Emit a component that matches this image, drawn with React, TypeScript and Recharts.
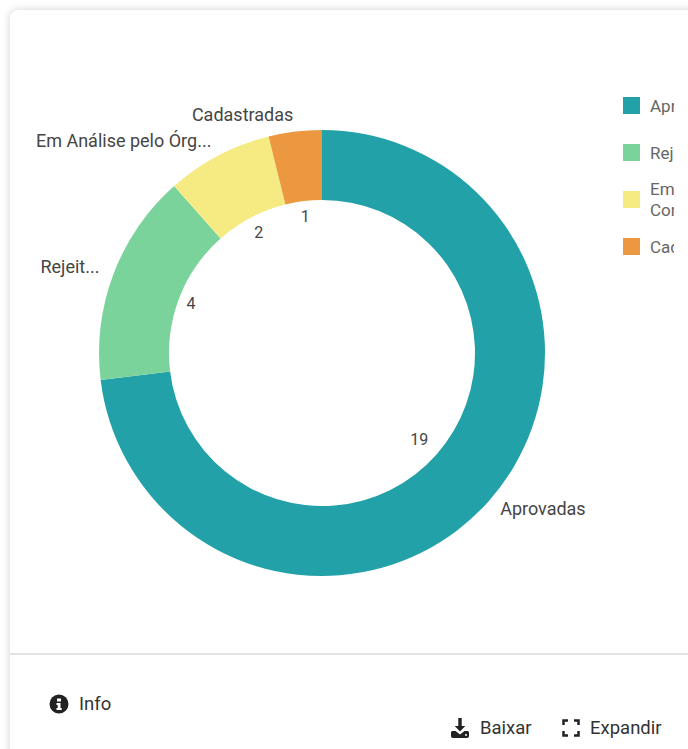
import { PieChart, Pie, Cell } from "recharts"

// ------------------------------------------------------------------
// Data
// ------------------------------------------------------------------

const categories = ["Aprovadas", "Rejeitadas", "Em Análise pelo Órgão", "Cadastradas"]
const legendLabels = ["Aprovadas", "Rejeitadas", "Em Análise pelo Órgão Concedente", "Cadastradas"]
const outerLabels = ["Aprovadas", "Rejeit...", "Em Análise pelo Órg...", "Cadastradas"]
const counts = [19, 4, 2, 1]
const colors = ["#23a1a8", "#7bd39c", "#f6ea83", "#ec9840"]

const chartData = categories.map((name, i) => ({ name, value: counts[i] }))

// label layout
const valueRadius = [130, 140, 136, 138]

const FONT = "Roboto, sans-serif"
const RADIAN = Math.PI / 180

// ------------------------------------------------------------------
// Labels
// ------------------------------------------------------------------

function SliceLabel({ cx, cy, midAngle, index, value }: any) {
    const cos = Math.cos(midAngle * RADIAN)
    const sin = Math.sin(midAngle * RADIAN)
    const outerR = 238
    const ir = valueRadius[index]

    return (
        <g style={{ fontFamily: FONT }}>
            <text
                x={cx + outerR * cos}
                y={cy - outerR * sin - 2}
                textAnchor={cos > 0 ? "start" : "end"}
                dominantBaseline="central"
                fontSize={18}
                fill="#454545"
            >
                {outerLabels[index]}
            </text>
            <text
                x={cx + ir * cos}
                y={cy - ir * sin}
                textAnchor="middle"
                dominantBaseline="central"
                fontSize={16}
                fill="#454545"
            >
                {value}
            </text>
        </g>
    )
}

// ------------------------------------------------------------------
// Footer icons
// ------------------------------------------------------------------

function InfoIcon() {
    return (
        <svg width={20} height={20} viewBox="0 0 20 20" style={{ position: "absolute", left: 49, top: 694 }}>
            <circle cx={10} cy={10} r={9.5} fill="#222" />
            <rect x={8} y={4.5} width={4} height={3} fill="#fff" />
            <path d="M7.5 9h4v5h1.2v2H7.5v-2h1.2v-3H7.5z" fill="#fff" />
        </svg>
    )
}

function DownloadIcon() {
    return (
        <svg width={20} height={22} viewBox="0 0 20 22" style={{ position: "absolute", left: 450, top: 717 }}>
            <path d="M8.3 1h3.4v8h3.6L10 14.5 4.7 9h3.6z" fill="#222" />
            <path d="M1 15.5c0-1 .8-1.5 1.6-1.5h3l4.4 3.5 4.4-3.5h3c.8 0 1.6.5 1.6 1.5v3.5c0 1-.8 2-2 2H3c-1.2 0-2-1-2-2z" fill="#222" />
            <circle cx={16} cy={18} r={1} fill="#fff" />
        </svg>
    )
}

function ExpandIcon() {
    return (
        <svg width={18} height={18} viewBox="0 0 18 18" style={{ position: "absolute", left: 562, top: 719 }}>
            <path
                d="M1.5 6V1.5H6M12 1.5h4.5V6M16.5 12v4.5H12M6 16.5H1.5V12"
                fill="none"
                stroke="#222"
                strokeWidth={2.5}
            />
        </svg>
    )
}

// ------------------------------------------------------------------
// App
// ------------------------------------------------------------------

const legendTops = [97, 144, 191, 238]

export default function App() {
    return (
        <div style={{ position: "fixed", left: 0, top: 0, width: 688, height: 749, overflow: "hidden", background: "#fff", fontFamily: FONT }}>
            {/* card */}
            <div
                style={{
                    position: "absolute",
                    left: 10,
                    top: 10,
                    width: 720,
                    height: 780,
                    borderRadius: 8,
                    background: "#fff",
                    boxShadow: "0 0 8px rgba(0,0,0,0.18)",
                }}
            />
            <div style={{ position: "absolute", left: 10, top: 653, width: 678, height: 2, background: "#e3e3e3" }} />

            <div style={{ position: "absolute", left: 0, top: 0 }}>
                <PieChart width={688} height={749} margin={{ top: 0, right: 0, bottom: 0, left: 0 }}>
                    <Pie
                        data={chartData}
                        dataKey="value"
                        nameKey="name"
                        cx={322}
                        cy={353}
                        innerRadius={153}
                        outerRadius={223}
                        startAngle={90}
                        endAngle={-270}
                        stroke="none"
                        isAnimationActive={false}
                        labelLine={false}
                        label={(props: any) => <SliceLabel {...props} />}
                    >
                        {chartData.map((d, i) => (
                            <Cell key={d.name} fill={colors[i]} />
                        ))}
                    </Pie>
                </PieChart>
            </div>

            {/* legend, clipped at the right like in the panel */}
            {legendLabels.map((label, i) => (
                <div key={label}>
                    <div
                        style={{
                            position: "absolute",
                            left: 623,
                            top: legendTops[i],
                            width: 17,
                            height: 17,
                            background: colors[i],
                        }}
                    />
                    <div
                        style={{
                            position: "absolute",
                            left: 650,
                            top: legendTops[i] + 9,
                            transform: "translateY(-50%)",
                            width: 24,
                            overflow: "hidden",
                            fontSize: 17,
                            lineHeight: "21px",
                            color: "#666",
                        }}
                    >
                        <div style={{ width: 210 }}>{label}</div>
                    </div>
                </div>
            ))}

            {/* footer */}
            <InfoIcon />
            <div style={{ position: "absolute", left: 79, top: 694, fontSize: 18.5, lineHeight: "20px", color: "#333" }}>Info</div>
            <DownloadIcon />
            <div style={{ position: "absolute", left: 480, top: 718, fontSize: 18.5, lineHeight: "20px", color: "#333" }}>Baixar</div>
            <ExpandIcon />
            <div style={{ position: "absolute", left: 590, top: 718, fontSize: 18.5, lineHeight: "20px", color: "#333" }}>Expandir</div>
        </div>
    )
}
